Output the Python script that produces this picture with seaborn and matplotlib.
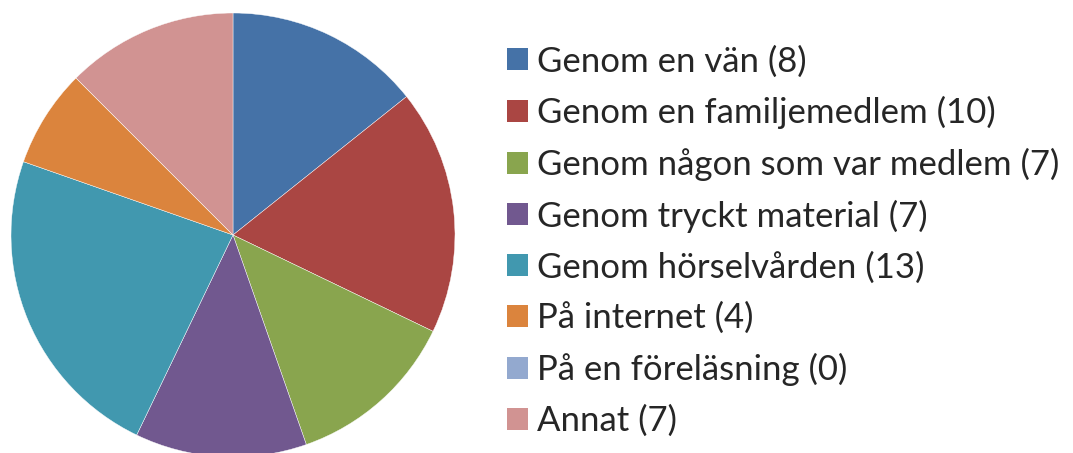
import matplotlib
matplotlib.use("Agg")
import matplotlib.pyplot as plt
import seaborn as sns
from matplotlib.patches import Patch

categories = ["Genom en vän", "Genom en familjemedlem", "Genom någon som var medlem",
              "Genom tryckt material", "Genom hörselvården", "På internet",
              "På en föreläsning", "Annat"]
values = [8, 10, 7, 7, 13, 4, 0, 7]
colors = ["#4572A7", "#AA4643", "#89A54E", "#71588F", "#4198AF", "#DB843D", "#93A9CF", "#D19392"]

sns.set_theme(style="white")
plt.rcParams['font.family'] = ['Lato', 'DejaVu Sans']

fig = plt.figure(figsize=(10.73, 4.53), dpi=100)
ax = fig.add_axes([11/1073, -4/453, 444/1073, 444/453])
ax.pie(values, colors=colors, startangle=90, counterclock=False,
       wedgeprops=dict(edgecolor="white", linewidth=0.3), radius=1)
ax.set_xlim(-1, 1)
ax.set_ylim(-1, 1)
ax.set_aspect("equal")
ax.axis("off")

labels = [f"{c} ({v})" for c, v in zip(categories, values)]
handles = [Patch(facecolor=col, edgecolor="none") for col in colors]
fig.legend(handles, labels, loc="center left", bbox_to_anchor=(507/1073, (453-241)/453),
           frameon=False, fontsize=25, handlelength=0.6, handleheight=0.6,
           handletextpad=0.26, labelspacing=0.535, borderaxespad=0, borderpad=0)

fig.savefig("out.png", dpi=100, facecolor="white")
